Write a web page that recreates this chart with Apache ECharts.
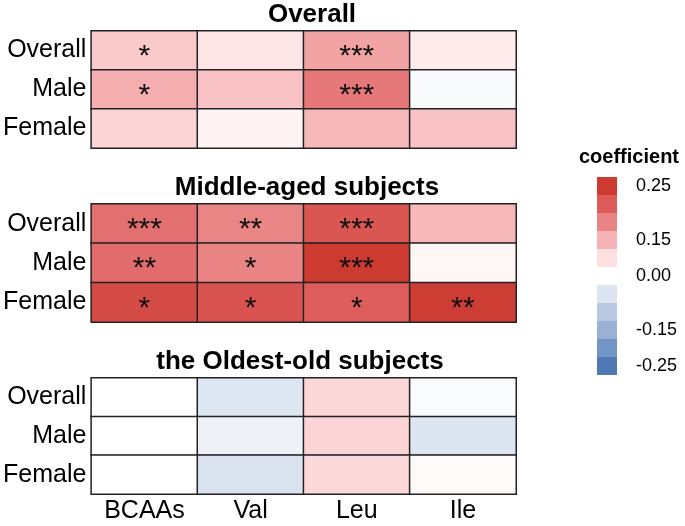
<!DOCTYPE html>
<html>
<head>
<meta charset="utf-8">
<script src="https://cdn.jsdelivr.net/npm/echarts@6/dist/echarts.min.js"></script>
<style>html,body{margin:0;padding:0;background:#fff}#c{width:685px;height:526px}</style>
</head>
<body>
<div id="c"></div>
<script>
const columns = ['BCAAs', 'Val', 'Leu', 'Ile'];
const rows = ['Overall', 'Male', 'Female'];
const panelTitles = ['Overall', 'Middle-aged subjects', 'the Oldest-old subjects'];

const overallValues = [
  [0.075, 0.040, 0.117, 0.032],
  [0.105, 0.082, 0.163, -0.010],
  [0.064, 0.020, 0.095, 0.082]
];
const overallSig = [
  ['*', '', '***', ''],
  ['*', '', '***', ''],
  ['', '', '', '']
];
const middleValues = [
  [0.173, 0.148, 0.206, 0.095],
  [0.178, 0.150, 0.260, 0.015],
  [0.225, 0.210, 0.195, 0.245]
];
const middleSig = [
  ['***', '**', '***', ''],
  ['**', '*', '***', ''],
  ['*', '*', '*', '**']
];
const oldestValues = [
  [0.000, -0.048, 0.060, -0.008],
  [0.000, -0.025, 0.063, -0.050],
  [0.000, -0.055, 0.058, 0.008]
];
const oldestSig = [
  ['', '', '', ''],
  ['', '', '', ''],
  ['', '', '', '']
];

const rampValues = [-0.25, -0.20, -0.15, -0.10, -0.05, 0, 0.05, 0.10, 0.15, 0.20, 0.25];
const rampColors = ['#5078b3', '#7395c5', '#98b1d4', '#bac9e2', '#dde5f1', '#ffffff', '#fee0e1', '#f6b3b5', '#e98384', '#dc5a58', '#cc3a30'];
const legendLabels = ['-0.25', ' ', '-0.15', ' ', ' ', '0.00', ' ', '0.15', ' ', ' ', '0.25'];
const legendTitle = 'coefficient';

const FONT = 'Liberation Sans, Arial, sans-serif';
const panels = [
  { values: overallValues, sig: overallSig, top: 31, height: 117, titleTop: 2, titleX: 312 },
  { values: middleValues, sig: middleSig, top: 204, height: 118, titleTop: 175, titleX: 307 },
  { values: oldestValues, sig: oldestSig, top: 378, height: 116, titleTop: 349, titleX: 300 }
];

const grids = [], xAxes = [], yAxes = [], series = [], titles = [];
panels.forEach((p, i) => {
  grids.push({ left: 90, top: p.top, width: 426, height: p.height });
  xAxes.push({
    type: 'category', data: columns, gridIndex: i,
    axisLine: { show: false }, axisTick: { show: false }, splitLine: { show: false },
    axisLabel: { show: i === 2, color: '#000', fontSize: 25, fontFamily: FONT, margin: 5 }
  });
  yAxes.push({
    type: 'category', data: rows, gridIndex: i, inverse: true,
    axisLine: { show: false }, axisTick: { show: false }, splitLine: { show: false },
    axisLabel: { color: '#000', fontSize: 25, fontFamily: FONT, margin: 5 }
  });
  const data = [];
  p.values.forEach((r, ri) => r.forEach((v, ci) => data.push([ci, ri, v])));
  const sig = p.sig;
  series.push({
    type: 'heatmap', xAxisIndex: i, yAxisIndex: i, data: data,
    itemStyle: { borderColor: '#222', borderWidth: 1.5 },
    label: {
      show: true, color: '#111', fontSize: 30, fontFamily: FONT, offset: [0, 6],
      formatter: (q) => sig[q.value[1]][q.value[0]]
    },
    emphasis: { disabled: true }
  });
  titles.push({
    text: panelTitles[i], left: p.titleX, top: p.titleTop, textAlign: 'center', padding: 0,
    textStyle: { fontSize: 26, fontWeight: 'bold', color: '#000', fontFamily: FONT }
  });
});
titles.push({
  text: legendTitle, left: 629, top: 147, textAlign: 'center', padding: 0,
  textStyle: { fontSize: 20, fontWeight: 'bold', color: '#000', fontFamily: FONT }
});
series.push({ type: 'scatter', xAxisIndex: 0, yAxisIndex: 0, data: [], silent: true });

const pieces = rampValues.map((v, k) => ({
  min: v - 0.025, max: v + 0.025, color: rampColors[k], label: legendLabels[k]
}));

const chart = echarts.init(document.getElementById('c'));
chart.setOption({
  backgroundColor: '#fff',
  animation: false,
  title: titles,
  grid: grids,
  xAxis: xAxes,
  yAxis: yAxes,
  visualMap: [
    {
      type: 'continuous', show: false, seriesIndex: [0, 1, 2], dimension: 2,
      min: -0.25, max: 0.25, inRange: { color: rampColors }
    },
    {
      type: 'piecewise', seriesIndex: [3], orient: 'vertical', align: 'left', left: 597, top: 177, padding: 0,
      itemWidth: 20, itemHeight: 18, itemGap: 0, itemSymbol: 'rect', textGap: 19,
      pieces: pieces, selectedMode: false, hoverLink: false,
      textStyle: { fontSize: 18, color: '#000', fontFamily: FONT }
    }
  ],
  series: series
});
</script>
</body>
</html>
